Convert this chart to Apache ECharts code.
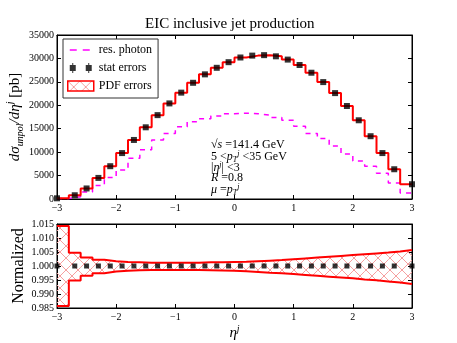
<!DOCTYPE html>
<html>
<head>
<meta charset="utf-8">
<script src="https://cdn.jsdelivr.net/npm/echarts@6/dist/echarts.min.js"></script>
<style>
  html, body { margin: 0; padding: 0; background: #fff; }
  #myChart { width: 457px; height: 343px; }
</style>
</head>
<body>
<div id="myChart"></div>
<script>
// bin edges of eta^j
var binEdges = [-3, -2.8, -2.6, -2.4, -2.2, -2, -1.8, -1.6, -1.4, -1.2, -1, -0.8, -0.6, -0.4, -0.2,
  0, 0.2, 0.4, 0.6, 0.8, 1, 1.2, 1.4, 1.6, 1.8, 2, 2.2, 2.4, 2.6, 2.8, 3];
// where the stat markers sit
var markerEta = [-3, -2.7, -2.5, -2.3, -2.1, -1.9, -1.7, -1.5, -1.3, -1.1, -0.9, -0.7, -0.5, -0.3, -0.1,
  0.1, 0.3, 0.5, 0.7, 0.9, 1.1, 1.3, 1.5, 1.7, 1.9, 2.1, 2.3, 2.5, 2.7, 3];
// d sigma / d eta [pb]
var inclusive = [150, 800, 2250, 4500, 7000, 9800, 12600, 15300, 17900, 20400, 22700, 24800, 26600, 28000, 29200,
  30200, 30600, 30700, 30450, 29750, 28600, 26950, 24950, 22600, 19850, 16800, 13400, 9800, 6350, 3150];
var resPhoton = [100, 500, 1500, 2900, 4600, 6200, 8700, 10500, 12600, 14000, 15400, 16500, 17100, 17700, 18200,
  18300, 18200, 17900, 17400, 16800, 15500, 14000, 12900, 11300, 9600, 8100, 7000, 5500, 3400, 1300];
// normalized PDF error (half widths up / down)
var pdfUp = [0.0143, 0.0047, 0.0030, 0.0022, 0.0017, 0.0014, 0.0013, 0.0012, 0.0012, 0.0012, 0.0012, 0.0012, 0.0013, 0.0013, 0.0014,
  0.0015, 0.0017, 0.0019, 0.0021, 0.0024, 0.0027, 0.0030, 0.0033, 0.0036, 0.0039, 0.0042, 0.0045, 0.0048, 0.0052, 0.0057];
var pdfDown = [0.0143, 0.0052, 0.0035, 0.0026, 0.0020, 0.0017, 0.0015, 0.0014, 0.0014, 0.0014, 0.0014, 0.0014, 0.0015, 0.0016, 0.0017,
  0.0019, 0.0021, 0.0024, 0.0026, 0.0029, 0.0032, 0.0035, 0.0038, 0.0041, 0.0044, 0.0048, 0.0051, 0.0055, 0.0059, 0.0064];
var statRatio = [1, 1, 1, 1, 1, 1, 1, 1, 1, 1, 1, 1, 1, 1, 1, 1, 1, 1, 1, 1, 1, 1, 1, 1, 1, 1, 1, 1, 1, 1];
var yTopTicks = { min: 0, max: 35000, interval: 5000 };
var yBotTicks = { min: 0.985, max: 1.015, interval: 0.005 };

var serif = "Liberation Serif";

// hatch pattern for the PDF band
var hatchCanvas = document.createElement("canvas");
hatchCanvas.width = 12;
hatchCanvas.height = 12;
var hctx = hatchCanvas.getContext("2d");
hctx.strokeStyle = "#f6a0a0";
hctx.lineWidth = 1;
hctx.beginPath();
hctx.moveTo(0, 0); hctx.lineTo(12, 12);
hctx.moveTo(12, 0); hctx.lineTo(0, 12);
hctx.stroke();
var hatch = { image: hatchCanvas, repeat: "repeat" };

function stepData(values) {
  var out = [];
  for (var i = 0; i < values.length; i++) out.push([binEdges[i], values[i]]);
  out.push([binEdges[binEdges.length - 1], values[values.length - 1]]);
  return out;
}
function pairs(xs, ys) {
  return xs.map(function (x, i) { return [x, ys[i]]; });
}
function minusFmt(v) {
  return v < 0 ? "\u2212" + (-v) : "" + v;
}

var upper = pdfUp.map(function (e) { return 1 + e; });
var lower = pdfDown.map(function (e) { return 1 - e; });
var bandData = upper.map(function (u, i) { return [binEdges[i], binEdges[i + 1], lower[i], u]; });

var tickStyle = { show: true, inside: true, length: 4, lineStyle: { color: "#000", width: 1 } };
var lineAxis = { show: true, onZero: false, lineStyle: { color: "#000", width: 1 } };
var labelStyle = { fontFamily: serif, fontSize: 10, color: "#000" };

var chartDom = echarts.init(document.getElementById("myChart"), null, { renderer: "canvas" });
var option = {
  animation: false,
  backgroundColor: "#fff",
  title: {
    text: "EIC inclusive jet production",
    left: 145,
    top: 17,
    padding: 0,
    textStyle: { fontFamily: serif, fontSize: 15, fontWeight: "normal", color: "#000" },
  },
  legend: {
    orient: "vertical",
    left: 63,
    top: 39,
    padding: [5, 6, 6, 4],
    itemWidth: 26,
    itemHeight: 10,
    itemGap: 6,
    borderColor: "#333",
    borderWidth: 1,
    borderRadius: 0,
    textStyle: { fontFamily: serif, fontSize: 12, color: "#000" },
    data: [
      {
        name: "res. photon",
        icon: "path://M0,0h0.01v0.01h-0.01z M26,10h0.01v0.01h-0.01z M2,4.2h7v1.6h-7z M15,4.2h7v1.6h-7z",
        itemStyle: { color: "#ff00ff" },
      },
      {
        name: "stat errors",
        icon: "path://M0,0h0.01v0.01h-0.01z M26,10h0.01v0.01h-0.01z M2,2h6v6h-6z M18,2h6v6h-6z M4.5,0h1v10h-1z M20.5,0h1v10h-1z",
        itemStyle: { color: "#000" },
      },
      {
        name: "PDF errors",
        icon: "rect",
        itemStyle: { color: hatch, borderColor: "#ff0000", borderWidth: 1.5 },
      },
    ],
  },
  grid: [
    {
      left: 57, top: 35, width: 355, height: 164, outerBoundsMode: "none", containLabel: false,
      show: true, borderColor: "#000", borderWidth: 1, backgroundColor: "transparent",
    },
    {
      left: 57, top: 224, width: 355, height: 84, outerBoundsMode: "none", containLabel: false,
      show: true, borderColor: "#000", borderWidth: 1, backgroundColor: "transparent",
    },
  ],
  xAxis: [
    {
      gridIndex: 0, type: "value", min: -3, max: 3, interval: 1, position: "bottom",
      axisLine: lineAxis, axisTick: tickStyle, splitLine: { show: false },
      axisLabel: Object.assign({ margin: 4, formatter: minusFmt }, labelStyle),
    },
    {
      gridIndex: 0, type: "value", min: -3, max: 3, interval: 1, position: "top",
      axisLine: lineAxis, axisTick: tickStyle, splitLine: { show: false }, axisLabel: { show: false },
    },
    {
      gridIndex: 1, type: "value", min: -3, max: 3, interval: 1, position: "bottom",
      axisLine: lineAxis, axisTick: tickStyle, splitLine: { show: false },
      axisLabel: Object.assign({ margin: 4, formatter: minusFmt }, labelStyle),
      name: "{i|η}{p|j}",
      nameLocation: "middle",
      nameGap: 16,
      nameMoveOverlap: false,
      nameTextStyle: {
        rich: {
          i: { fontFamily: serif, fontStyle: "italic", fontSize: 15, color: "#000", lineHeight: 18 },
          p: { fontFamily: serif, fontStyle: "italic", fontSize: 10, color: "#000", lineHeight: 10, verticalAlign: "top" },
        },
      },
    },
    {
      gridIndex: 1, type: "value", min: -3, max: 3, interval: 1, position: "top",
      axisLine: lineAxis, axisTick: tickStyle, splitLine: { show: false }, axisLabel: { show: false },
    },
  ],
  yAxis: [
    {
      gridIndex: 0, type: "value", min: yTopTicks.min, max: yTopTicks.max, interval: yTopTicks.interval, position: "left",
      axisLine: lineAxis, axisTick: tickStyle, splitLine: { show: false },
      axisLabel: Object.assign({ margin: 3, formatter: function (v) { return "" + v; } }, labelStyle),
      name: "{i|dσ}{s|unpol}{i|/dη}{p|j}{n| [pb]}",
      nameLocation: "middle",
      nameGap: 32,
      nameMoveOverlap: false,
      nameTextStyle: {
        rich: {
          i: { fontFamily: serif, fontStyle: "italic", fontSize: 15, color: "#000", lineHeight: 20 },
          s: { fontFamily: serif, fontStyle: "italic", fontSize: 10, color: "#000", lineHeight: 10, verticalAlign: "bottom" },
          p: { fontFamily: serif, fontStyle: "italic", fontSize: 10, color: "#000", lineHeight: 10, verticalAlign: "top" },
          n: { fontFamily: serif, fontSize: 15, color: "#000", lineHeight: 20 },
        },
      },
    },
    {
      gridIndex: 0, type: "value", min: yTopTicks.min, max: yTopTicks.max, interval: yTopTicks.interval, position: "right",
      axisLine: lineAxis, axisTick: tickStyle, splitLine: { show: false }, axisLabel: { show: false },
    },
    {
      gridIndex: 1, type: "value", min: yBotTicks.min, max: yBotTicks.max, interval: yBotTicks.interval, position: "left",
      axisLine: lineAxis, axisTick: tickStyle, splitLine: { show: false },
      axisLabel: Object.assign({ margin: 3, formatter: function (v) { return v.toFixed(3); } }, labelStyle),
      name: "Normalized",
      nameLocation: "middle",
      nameGap: 30,
      nameMoveOverlap: false,
      nameTextStyle: { fontFamily: serif, fontSize: 16, color: "#000" },
    },
    {
      gridIndex: 1, type: "value", min: yBotTicks.min, max: yBotTicks.max, interval: yBotTicks.interval, position: "right",
      axisLine: lineAxis, axisTick: tickStyle, splitLine: { show: false }, axisLabel: { show: false },
    },
  ],
  series: [
    {
      name: "res. photon",
      type: "line",
      xAxisIndex: 0, yAxisIndex: 0,
      step: "end",
      symbol: "none",
      lineStyle: { color: "#ff00ff", width: 1.5, type: [5, 5] },
      itemStyle: { color: "#ff00ff" },
      data: stepData(resPhoton),
      z: 2,
    },
    {
      name: "PDF errors",
      type: "line",
      xAxisIndex: 0, yAxisIndex: 0,
      step: "end",
      symbol: "none",
      lineStyle: { color: "#ff0000", width: 2 },
      itemStyle: { color: "#ff0000" },
      data: stepData(inclusive),
      z: 3,
    },
    {
      name: "stat errors",
      type: "scatter",
      xAxisIndex: 0, yAxisIndex: 0,
      symbol: "rect",
      symbolSize: 6,
      itemStyle: { color: "#000" },
      data: pairs(markerEta, inclusive),
      z: 4,
    },
    {
      type: "custom",
      xAxisIndex: 2, yAxisIndex: 2,
      encode: { x: [0, 1], y: [2, 3] },
      renderItem: function (params, api) {
        var p0 = api.coord([api.value(0), api.value(3)]);
        var p1 = api.coord([api.value(1), api.value(2)]);
        return {
          type: "rect",
          shape: { x: p0[0], y: p0[1], width: p1[0] - p0[0], height: p1[1] - p0[1] },
          style: { fill: hatch },
        };
      },
      data: bandData,
      z: 1,
    },
    {
      type: "line",
      xAxisIndex: 2, yAxisIndex: 2,
      step: "end",
      symbol: "none",
      lineStyle: { color: "#ff0000", width: 2 },
      data: stepData(upper),
      z: 3,
    },
    {
      type: "line",
      xAxisIndex: 2, yAxisIndex: 2,
      step: "end",
      symbol: "none",
      lineStyle: { color: "#ff0000", width: 2 },
      data: stepData(lower),
      z: 3,
    },
    {
      type: "scatter",
      xAxisIndex: 2, yAxisIndex: 2,
      symbol: "rect",
      symbolSize: 5,
      itemStyle: { color: "#000" },
      data: pairs(markerEta, statRatio),
      z: 4,
    },
  ],
  graphic: [],
};

// kinematics annotation
var annRich = {
  n: { fontFamily: serif, fontSize: 12, color: "#000", lineHeight: 14 },
  i: { fontFamily: serif, fontStyle: "italic", fontSize: 12, color: "#000", lineHeight: 14 },
  sub: { fontFamily: serif, fontStyle: "italic", fontSize: 8, color: "#000", lineHeight: 8, verticalAlign: "bottom" },
  sup: { fontFamily: serif, fontStyle: "italic", fontSize: 8, color: "#000", lineHeight: 8, verticalAlign: "top" },
};
var annLines = [
  "{n|√}{i|s}{n| =141.4 GeV}",
  "{n|5 <}{i|p}{sub|T}{sup|j}{n| <35 GeV}",
  "{n||}{i|η}{sup|j}{n|| <3}",
  "{i|R}{n| =0.8}",
  "{i|μ}{n| =}{i|p}{sub|T}{sup|j}",
];
var annY = [146, 157, 168, 179, 190];
annLines.forEach(function (t, k) {
  option.graphic.push({
    type: "text",
    left: 211,
    top: annY[k] - 7,
    style: { text: t, rich: annRich },
  });
});

chartDom.setOption(option);
</script>
</body>
</html>
